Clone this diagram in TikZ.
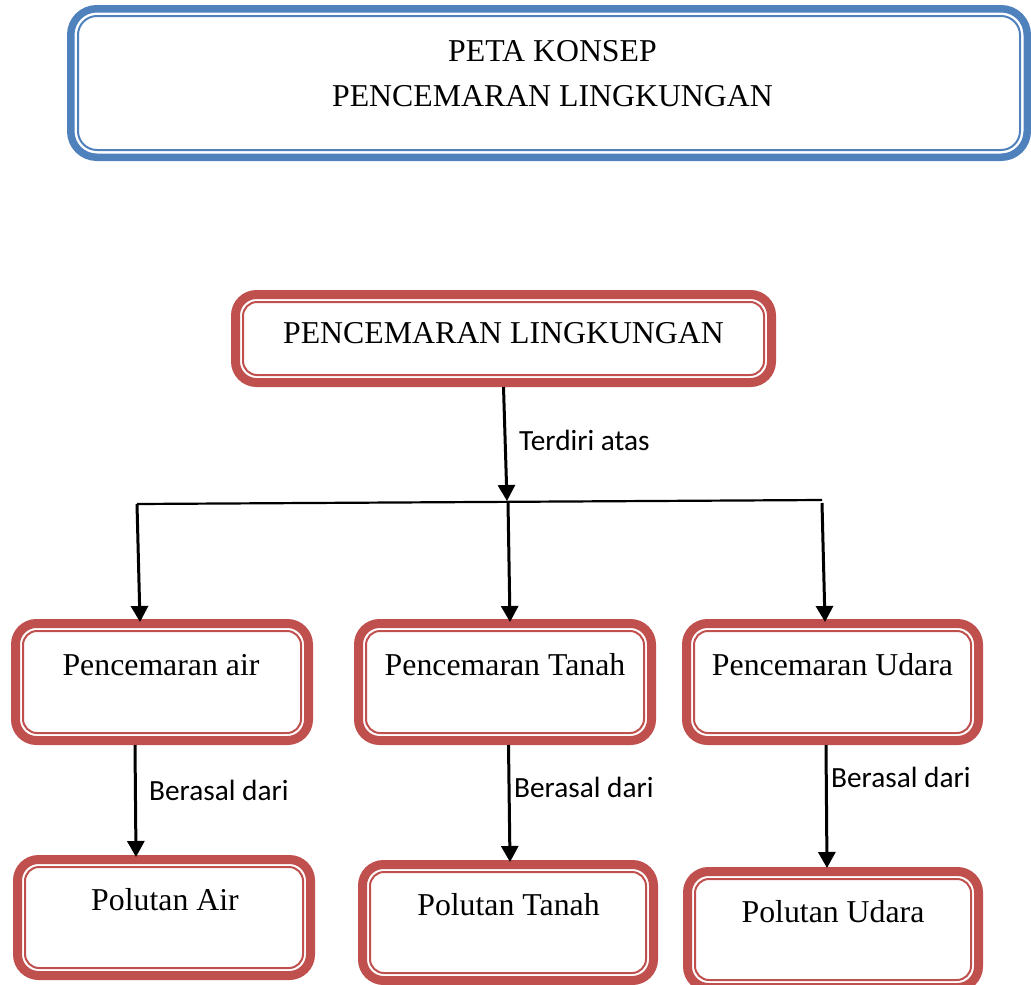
\documentclass[tikz,border=0pt]{standalone}
\usepackage{fontspec}
\setmainfont{Liberation Serif}
\newfontfamily\lblfont{Carlito}
\usetikzlibrary{arrows.meta}
\definecolor{boxred}{HTML}{C0504D}
\definecolor{boxblue}{HTML}{4F81BD}
\tikzset{
  redbox/.style={draw=boxred, line width=9pt, rounded corners=21pt, inner sep=0pt,
    path picture={\draw[line width=2pt, draw=boxred, rounded corners=14pt]
      ([shift={(7.5pt,7.5pt)}]path picture bounding box.south west) rectangle
      ([shift={(-7.5pt,-7.5pt)}]path picture bounding box.north east);}},
  bluebox/.style={draw=boxblue, line width=7.5pt, rounded corners=26pt, inner sep=0pt,
    path picture={\draw[line width=2pt, draw=boxblue, rounded corners=19pt]
      ([shift={(7.25pt,7.25pt)}]path picture bounding box.south west) rectangle
      ([shift={(-7.25pt,-7.25pt)}]path picture bounding box.north east);}},
  boxtext/.style={anchor=base, inner sep=0pt, font=\fontsize{31.8}{38}\selectfont},
  lbl/.style={anchor=west, inner sep=0pt, font=\lblfont\fontsize{29.3}{35}\selectfont},
  arr/.style={line width=3pt, -{Triangle[width=17pt,length=16pt]}},
  hline/.style={line width=2.2pt}
}
\begin{document}
\begin{tikzpicture}[x=1pt,y=-1pt]
\useasboundingbox (0,0) rectangle (1031,985);
% title box
\node[bluebox, minimum width=956.5pt, minimum height=148.5pt] (title) at (549,83) {};
\node[boxtext] (t1) at (552.5,61) {PETA KONSEP};
\node[boxtext] (t2) at (552.5,106) {PENCEMARAN LINGKUNGAN};
% main box
\node[redbox, minimum width=536pt, minimum height=88pt] (tb) at (503.5,338.5) {};
\node[boxtext] (tbt) at (503.5,343) {PENCEMARAN LINGKUNGAN};
% second level
\node[redbox, minimum width=293pt, minimum height=117pt] (pa) at (162,682) {};
\node[boxtext] (pat) at (161,675) {Pencemaran air};
\node[redbox, minimum width=293pt, minimum height=117pt] (pt) at (505,682) {};
\node[boxtext] (ptt) at (505,675) {Pencemaran Tanah};
\node[redbox, minimum width=292pt, minimum height=117pt] (pu) at (832.5,682) {};
\node[boxtext] (put) at (832.5,675) {Pencemaran Udara};
% third level
\node[redbox, minimum width=293pt, minimum height=116pt] (xa) at (164,917.5) {};
\node[boxtext] (xat) at (165,910) {Polutan Air};
\node[redbox, minimum width=291pt, minimum height=116pt] (xt) at (508,922.5) {};
\node[boxtext] (xtt) at (508.5,915) {Polutan Tanah};
\node[redbox, minimum width=291pt, minimum height=116pt] (xu) at (833,929.5) {};
\node[boxtext] (xut) at (833,922) {Polutan Udara};
% connectors
\coordinate (J) at (507,501);
\coordinate (L) at (137,504);
\coordinate (R) at (822,500);
\coordinate (M) at (508,502);
\coordinate (Rs) at (822,503);
\draw[arr] (tb.south) -- (J);
\node[lbl] (l0) at (519,440) {Terdiri atas};
\draw[hline] (L) -- (R);
\draw[arr] (L) -- ([xshift=-22pt,yshift=-3pt]pa.north);
\draw[arr] (M) -- ([xshift=5pt,yshift=-3pt]pt.north);
\draw[arr] (Rs) -- ([xshift=-7.5pt,yshift=-3pt]pu.north);
\draw[arr] ([xshift=-27pt]pa.south) -- ([xshift=-28pt,yshift=-2pt]xa.north);
\node[lbl] (l1) at (149,790) {Berasal dari};
\draw[arr] ([xshift=3.5pt]pt.south) -- ([xshift=2pt,yshift=-2pt]xt.north);
\node[lbl] (l2) at (514,787) {Berasal dari};
\draw[arr] ([xshift=-6.5pt]pu.south) -- ([xshift=-6pt,yshift=-1pt]xu.north);
\node[lbl] (l3) at (831,777) {Berasal dari};
\end{tikzpicture}
\end{document}
